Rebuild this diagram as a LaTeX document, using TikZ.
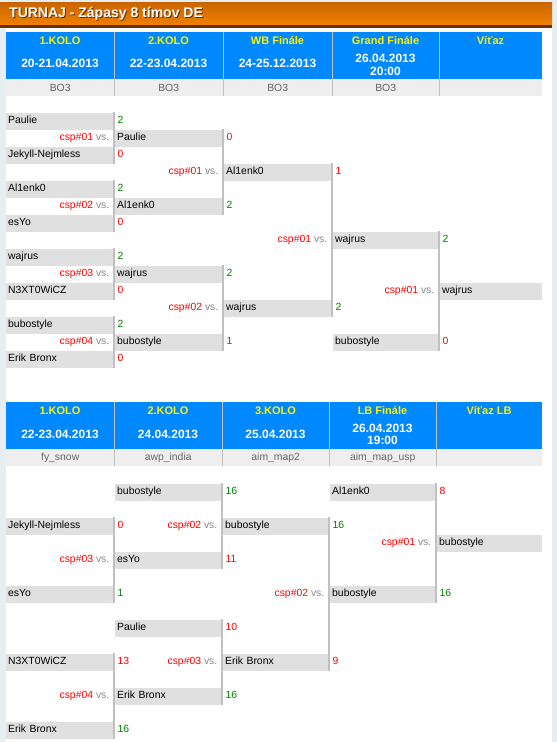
\documentclass[tikz,border=0pt]{standalone}
\usepackage{fontspec}
\setmainfont{Liberation Sans}
\usetikzlibrary{positioning}
\definecolor{hblue}{HTML}{0088FF}
\definecolor{hgray}{HTML}{EEEEEE}
\definecolor{boxgray}{HTML}{E0E0E0}
\definecolor{bargray}{HTML}{C0C0C0}
\definecolor{stripe}{HTML}{E6EEF2}
\definecolor{orangetop}{HTML}{C86400}
\definecolor{orangebot}{HTML}{F08000}
\definecolor{brownline}{HTML}{6A3000}
\definecolor{winc}{HTML}{008000}
\definecolor{losec}{HTML}{FF0000}
\definecolor{vsgray}{HTML}{888888}
\definecolor{mapgray}{HTML}{666666}
\tikzset{
  txt/.style={inner xsep=2pt, inner ysep=0pt, text height=8pt, text depth=2.5pt,
    font=\fontsize{10.4}{12}\selectfont},
  team/.style={txt, fill=boxgray, anchor=west, minimum height=17pt, text width=#1, align=left},
  team/.default=103pt,
  win/.style={txt, text=winc},
  lose/.style={txt, text=losec},
  vs/.style={txt, text=vsgray},
  bar/.style={draw=bargray, line width=2pt},
  sep/.style={draw=bargray, line width=1.5pt},
  hcell/.style={fill=hblue, anchor=north west, minimum height=47.3pt, inner sep=0pt},
  mcell/.style={fill=hgray, anchor=north west, minimum height=16.7pt, inner sep=0pt,
    text=mapgray, font=\fontsize{10.4}{12}\selectfont},
  kolo/.style={text=yellow, inner sep=0pt, font=\bfseries\fontsize{11}{12}\selectfont},
  datum/.style={text=white, inner sep=0pt, font=\bfseries\fontsize{12}{13}\selectfont},
  titel/.style={anchor=west, inner sep=0pt, text=white, font=\bfseries\fontsize{14}{16}\selectfont}
}
\begin{document}
\begin{tikzpicture}[x=1pt,y=-1pt]
    \useasboundingbox (0,0) rectangle (557,742);
    \fill[stripe] (0,0) rectangle (557,742);
    \fill[white] (6,28) rectangle (552,742);
    \shade[top color=orangetop, bottom color=orangebot] (0,2) rectangle (552,25);
    \fill[brownline] (0,25) rectangle (552,28);
    \node[titel, text=brownline] (tts) at (10,14.5) {TURNAJ - Zápasy 8 tímov DE};
    \node[titel] (tt) at (9,13.5) {TURNAJ - Zápasy 8 tímov DE};

    % winner bracket header
    \node[hcell, minimum width=108] (wh1) at (6,32) {};
    \node[hcell, minimum width=109] (wh2) at (114,32) {};
    \node[hcell, minimum width=109] (wh3) at (223,32) {};
    \node[hcell, minimum width=107] (wh4) at (332,32) {};
    \node[hcell, minimum width=103] (wh5) at (439,32) {};
    \node[mcell, minimum width=108] (wm1) at (6,79) {BO3};
    \node[mcell, minimum width=109] (wm2) at (114,79) {BO3};
    \node[mcell, minimum width=109] (wm3) at (223,79) {BO3};
    \node[mcell, minimum width=107] (wm4) at (332,79) {BO3};
    \node[mcell, minimum width=103] (wm5) at (439,79) {};
    \draw[sep] (wh1.north east) -- (wm1.south east);
    \draw[sep] (wh2.north east) -- (wm2.south east);
    \draw[sep] (wh3.north east) -- (wm3.south east);
    \draw[sep] (wh4.north east) -- (wm4.south east);
    \node[kolo] (wk1) at (60,41) {1.KOLO};
    \node[kolo] (wk2) at (168.5,41) {2.KOLO};
    \node[kolo] (wk3) at (277.5,41) {WB Finále};
    \node[kolo] (wk4) at (385.5,41) {Grand Finále};
    \node[kolo] (wk5) at (490.5,41) {Víťaz};
    \node[datum] (wd1) at (60,63) {20-21.04.2013};
    \node[datum] (wd2) at (168.5,63) {22-23.04.2013};
    \node[datum] (wd3) at (277.5,63) {24-25.12.2013};
    \node[datum] (wd4) at (385.5,58) {26.04.2013};
    \node[datum] (wt4) at (385.5,71) {20:00};

    % winner bracket
    \node[team] (w10) at (6,121) {Paulie};
    \node[team] (w12) at (6,155) {Jekyll-Nejmless};
    \node[team] (w14) at (6,189) {Al1enk0};
    \node[team] (w16) at (6,223) {esYo};
    \node[team] (w18) at (6,257) {wajrus};
    \node[team] (w110) at (6,291) {N3XT0WiCZ};
    \node[team] (w112) at (6,325) {bubostyle};
    \node[team] (w114) at (6,359) {Erik Bronx};
    \node[win, right=2pt of w10] (sw10) {2};
    \node[lose, right=2pt of w12] (sw12) {0};
    \node[win, right=2pt of w14] (sw14) {2};
    \node[lose, right=2pt of w16] (sw16) {0};
    \node[win, right=2pt of w18] (sw18) {2};
    \node[lose, right=2pt of w110] (sw110) {0};
    \node[win, right=2pt of w112] (sw112) {2};
    \node[lose, right=2pt of w114] (sw114) {0};

    \node[team] (w21) at (115,138) {Paulie};
    \node[team] (w25) at (115,206) {Al1enk0};
    \node[team] (w29) at (115,274) {wajrus};
    \node[team] (w213) at (115,342) {bubostyle};
    \node[lose, right=2pt of w21] (sw21) {0};
    \node[win, right=2pt of w25] (sw25) {2};
    \node[win, right=2pt of w29] (sw29) {2};
    \node[lose, right=2pt of w213] (sw213) {1};
    \node[vs, left=3.5pt of w21] (vw21) {\textcolor{losec}{csp\#01} vs.};
    \node[vs, left=3.5pt of w25] (vw25) {\textcolor{losec}{csp\#02} vs.};
    \node[vs, left=3.5pt of w29] (vw29) {\textcolor{losec}{csp\#03} vs.};
    \node[vs, left=3.5pt of w213] (vw213) {\textcolor{losec}{csp\#04} vs.};

    \node[team] (w33) at (224,172) {Al1enk0};
    \node[team] (w311) at (224,308) {wajrus};
    \node[lose, right=2pt of w33] (sw33) {1};
    \node[win, right=2pt of w311] (sw311) {2};
    \node[vs, left=3.5pt of w33] (vw33) {\textcolor{losec}{csp\#01} vs.};
    \node[vs, left=3.5pt of w311] (vw311) {\textcolor{losec}{csp\#02} vs.};

    \node[team=101pt] (w47) at (333,240) {wajrus};
    \node[team=101pt] (w413) at (333,342) {bubostyle};
    \node[win, right=2pt of w47] (sw47) {2};
    \node[lose, right=2pt of w413] (sw413) {0};
    \node[vs, left=3.5pt of w47] (vw47) {\textcolor{losec}{csp\#01} vs.};

    \node[team=98pt] (w510) at (440,291) {wajrus};
    \node[vs, left=3.5pt of w510] (vw510) {\textcolor{losec}{csp\#01} vs.};

    \draw[bar] ([xshift=1pt]w10.north east) -- ([xshift=1pt]w12.south east);
    \draw[bar] ([xshift=1pt]w14.north east) -- ([xshift=1pt]w16.south east);
    \draw[bar] ([xshift=1pt]w18.north east) -- ([xshift=1pt]w110.south east);
    \draw[bar] ([xshift=1pt]w112.north east) -- ([xshift=1pt]w114.south east);
    \draw[bar] ([xshift=1pt]w21.north east) -- ([xshift=1pt]w25.south east);
    \draw[bar] ([xshift=1pt]w29.north east) -- ([xshift=1pt]w213.south east);
    \draw[bar] ([xshift=1pt]w33.north east) -- ([xshift=1pt]w311.south east);
    \draw[bar] ([xshift=1pt]w47.north east) -- ([xshift=1pt]w413.south east);

    % loser bracket header
    \node[hcell, minimum width=108] (lh1) at (6,401.7) {};
    \node[hcell, minimum width=108] (lh2) at (114,401.7) {};
    \node[hcell, minimum width=107] (lh3) at (222,401.7) {};
    \node[hcell, minimum width=107] (lh4) at (329,401.7) {};
    \node[hcell, minimum width=106] (lh5) at (436,401.7) {};
    \node[mcell, minimum width=108] (lm1) at (6,449) {fy\_snow};
    \node[mcell, minimum width=108] (lm2) at (114,449) {awp\_india};
    \node[mcell, minimum width=107] (lm3) at (222,449) {aim\_map2};
    \node[mcell, minimum width=107] (lm4) at (329,449) {aim\_map\_usp};
    \node[mcell, minimum width=106] (lm5) at (436,449) {};
    \draw[sep] (lh1.north east) -- (lm1.south east);
    \draw[sep] (lh2.north east) -- (lm2.south east);
    \draw[sep] (lh3.north east) -- (lm3.south east);
    \draw[sep] (lh4.north east) -- (lm4.south east);
    \node[kolo] (lk1) at (60,410.7) {1.KOLO};
    \node[kolo] (lk2) at (168,410.7) {2.KOLO};
    \node[kolo] (lk3) at (275.5,410.7) {3.KOLO};
    \node[kolo] (lk4) at (382.5,410.7) {LB Finále};
    \node[kolo] (lk5) at (489,410.7) {Víťaz LB};
    \node[datum] (ld1) at (60,434) {22-23.04.2013};
    \node[datum] (ld2) at (168,434) {24.04.2013};
    \node[datum] (ld3) at (275.5,434) {25.04.2013};
    \node[datum] (ld4) at (382.5,428) {26.04.2013};
    \node[datum] (lt4) at (382.5,440.7) {19:00};

    % loser bracket
    \node[team] (l12) at (6,526) {Jekyll-Nejmless};
    \node[team] (l16) at (6,594) {esYo};
    \node[team] (l110) at (6,662) {N3XT0WiCZ};
    \node[team] (l114) at (6,730) {Erik Bronx};
    \node[lose, right=2pt of l12] (sl12) {0};
    \node[win, right=2pt of l16] (sl16) {1};
    \node[lose, right=2pt of l110] (sl110) {13};
    \node[win, right=2pt of l114] (sl114) {16};

    \node[team=102pt] (l20) at (115,492) {bubostyle};
    \node[team=102pt] (l24) at (115,560) {esYo};
    \node[team=102pt] (l28) at (115,628) {Paulie};
    \node[team=102pt] (l212) at (115,696) {Erik Bronx};
    \node[win, right=2pt of l20] (sl20) {16};
    \node[lose, right=2pt of l24] (sl24) {11};
    \node[lose, right=2pt of l28] (sl28) {10};
    \node[win, right=2pt of l212] (sl212) {16};
    \node[vs, left=3.5pt of l24] (vl24) {\textcolor{losec}{csp\#03} vs.};
    \node[vs, left=3.5pt of l212] (vl212) {\textcolor{losec}{csp\#04} vs.};

    \node[team=101pt] (l32) at (223,526) {bubostyle};
    \node[team=101pt] (l310) at (223,662) {Erik Bronx};
    \node[win, right=2pt of l32] (sl32) {16};
    \node[lose, right=2pt of l310] (sl310) {9};
    \node[vs, left=3.5pt of l32] (vl32) {\textcolor{losec}{csp\#02} vs.};
    \node[vs, left=3.5pt of l310] (vl310) {\textcolor{losec}{csp\#03} vs.};

    \node[team=101pt] (l40) at (330,492) {Al1enk0};
    \node[team=101pt] (l46) at (330,594) {bubostyle};
    \node[lose, right=2pt of l40] (sl40) {8};
    \node[win, right=2pt of l46] (sl46) {16};
    \node[vs, left=3.5pt of l46] (vl46) {\textcolor{losec}{csp\#02} vs.};

    \node[team=101pt] (l53) at (437,543) {bubostyle};
    \node[vs, left=3.5pt of l53] (vl53) {\textcolor{losec}{csp\#01} vs.};

    \draw[bar] ([xshift=1pt]l12.north east) -- ([xshift=1pt]l16.south east);
    \draw[bar] ([xshift=1pt]l110.north east) -- ([xshift=1pt]l114.south east);
    \draw[bar] ([xshift=1pt]l20.north east) -- ([xshift=1pt]l24.south east);
    \draw[bar] ([xshift=1pt]l28.north east) -- ([xshift=1pt]l212.south east);
    \draw[bar] ([xshift=1pt]l32.north east) -- ([xshift=1pt]l310.south east);
    \draw[bar] ([xshift=1pt]l40.north east) -- ([xshift=1pt]l46.south east);
\end{tikzpicture}
\end{document}
